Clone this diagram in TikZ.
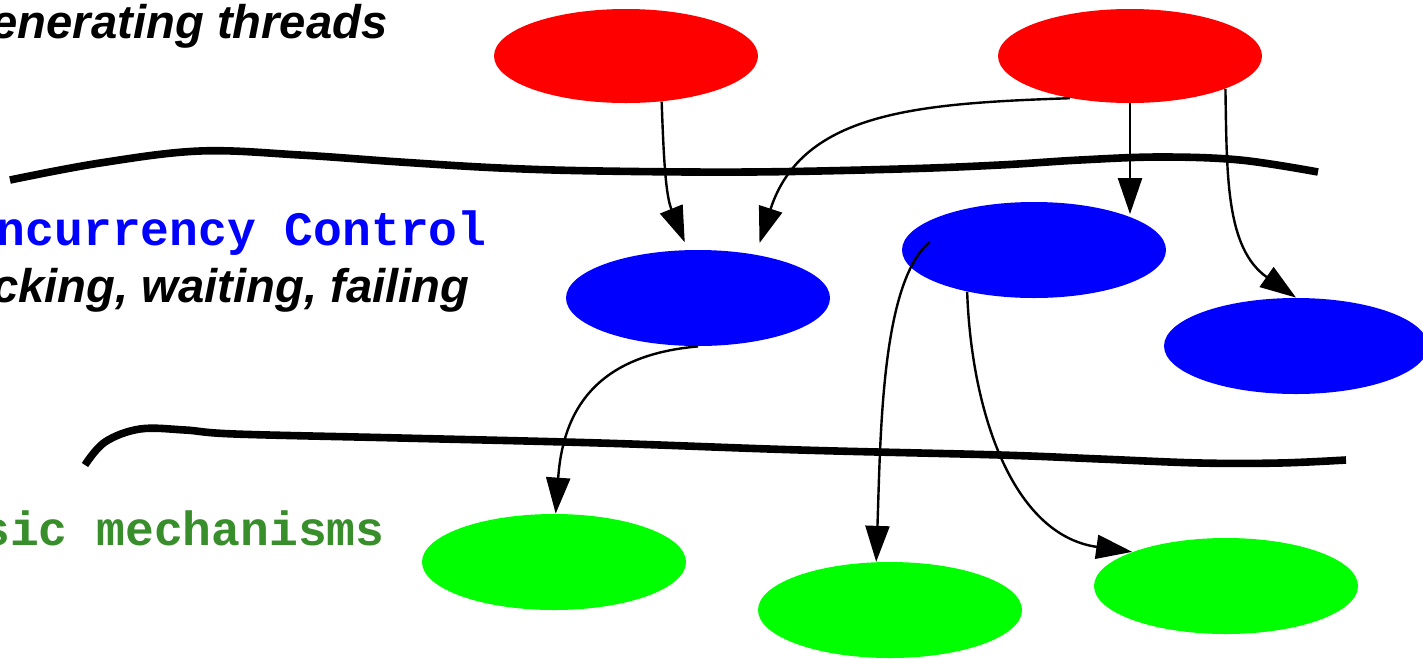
\documentclass[tikz,border=0pt]{standalone}
\usepackage{fontspec}
\setmainfont{Liberation Sans}
\setmonofont{Liberation Mono}
\usetikzlibrary{arrows.meta, shapes.geometric}
\definecolor{mechgreen}{RGB}{56,142,42}

\begin{document}
\begin{tikzpicture}[x=0.5pt, y=0.5pt,
    blob/.style={ellipse, draw=none, minimum width=132pt, minimum height=48pt, inner sep=0pt},
    arr/.style={line width=1.2pt, -{Triangle[length=18pt, width=12pt]}},
    layer/.style={line width=3.8pt},
    title/.style={anchor=base east, inner sep=0pt, font=\fontsize{23.6}{26}\selectfont\bfseries\itshape},
    code/.style={anchor=base east, inner sep=0pt, font=\fontsize{24}{27}\selectfont\ttfamily\bfseries}]
    \useasboundingbox (0,0) rectangle (1423,-659);
    % layer texts
    \node[title] (gen) at (388,-38) {enerating threads};
    \node[code, text=blue] (cc) at (487,-245) {ncurrency Control};
    \node[title] (lwf) at (470,-302) {cking, waiting, failing};
    \node[code, text=mechgreen] (bm) at (385,-545) {sic mechanisms};
    % threads
    \node[blob, fill=red, minimum height=47pt] (R1) at (626,-56) {};
    \node[blob, fill=red, minimum height=47pt] (R2) at (1130,-56) {};
    \node[blob, fill=blue] (B1) at (698,-298) {};
    \node[blob, fill=blue] (B2) at (1034,-250) {};
    \node[blob, fill=blue] (B3) at (1296,-346) {};
    \node[blob, fill=green] (G1) at (554,-562) {};
    \node[blob, fill=green] (G2) at (890,-610) {};
    \node[blob, fill=green] (G3) at (1226,-586) {};
    % layer borders
    \draw[layer] plot[smooth, tension=0.6] coordinates {(10,-180) (100,-163) (200,-151) (300,-155)
        (400,-162) (500,-168) (600,-171) (750,-172) (900,-169) (1000,-165) (1080,-160)
        (1160,-157) (1240,-160) (1318,-172)};
    \draw[layer] plot[smooth, tension=0.6] coordinates {(85,-465) (105,-442) (140,-429) (185,-430)
        (235,-434) (400,-438) (600,-443) (800,-450) (1000,-455) (1100,-459) (1200,-463)
        (1280,-463) (1346,-460)};
    % calls
    \draw[arr, shorten >=4pt] (R1.-52) to[out=-88, in=112] (B1.102);
    \draw[arr, shorten >=6pt] (R2.-145) to[out=182, in=72, looseness=1.1] (B1.37);
    \draw[arr] (R2.south) -- (R2.south |- B2.22);
    \draw[arr] (R2.-19) to[out=-89, in=145] (B3.north);
    \draw[arr] (B1.south) to[out=185, in=86, looseness=1.2] (G1.88);
    \draw[arr] ([xshift=14pt, yshift=4pt]B2.west) to[out=-140, in=88, out looseness=0.5] (G2.106);
    \draw[arr] (B2.-148) to[out=-88, in=172] (G3.160);
\end{tikzpicture}
\end{document}
